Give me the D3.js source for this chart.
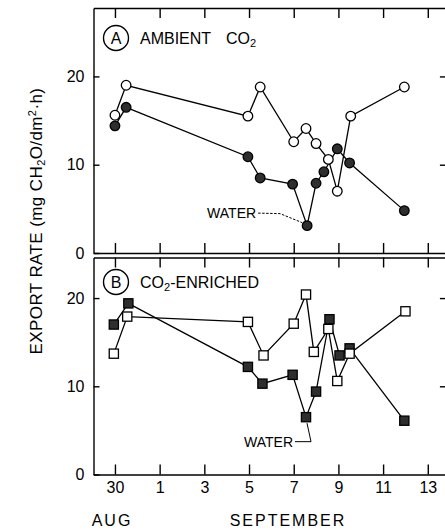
<!DOCTYPE html>
<html>
<head>
<meta charset="utf-8">
<script src="https://cdn.jsdelivr.net/npm/d3@7"></script>
<style>
  html, body { margin: 0; padding: 0; background: #fff; }
  svg { display: block; font-family: "Liberation Sans", Arial, sans-serif; }
</style>
</head>
<body>
<svg id="chart" width="445" height="530"></svg>
<script>
// Days counted from 30 August (31 Aug = 1, 1 Sep = 2, ...)
const tickDays   = [0, 2, 4, 6, 8, 10, 12, 14];
const tickLabels = ["30", "1", "3", "5", "7", "9", "11", "13"];
const yTicks     = [0, 10, 20];

// Panel A: ambient CO2
const ambientOpenDays   = [0, 0.5, 5.95, 6.5, 8.0, 8.55, 9.0, 9.55, 9.95, 10.55, 12.95];
const ambientOpenVals   = [15.6, 19.0, 15.5, 18.8, 12.6, 14.1, 12.4, 10.6, 7.0, 15.5, 18.8];
const ambientFilledDays = [0, 0.5, 5.95, 6.5, 7.95, 8.6, 9.0, 9.35, 9.95, 10.5, 12.95];
const ambientFilledVals = [14.4, 16.5, 10.9, 8.5, 7.8, 3.1, 7.9, 9.2, 11.8, 10.2, 4.8];

// Panel B: CO2-enriched
const enrichedOpenDays   = [-0.05, 0.55, 5.95, 6.65, 8.0, 8.55, 8.9, 9.55, 9.95, 10.5, 13.0];
const enrichedOpenVals   = [13.7, 17.9, 17.3, 13.5, 17.1, 20.4, 13.9, 16.5, 10.6, 13.7, 18.5];
const enrichedFilledDays = [-0.05, 0.6, 5.95, 6.6, 7.95, 8.55, 9.0, 9.6, 10.05, 10.5, 12.95];
const enrichedFilledVals = [17.0, 19.4, 12.2, 10.3, 11.3, 6.5, 9.4, 17.6, 13.5, 14.3, 6.1];

const zip = (days, vals) => days.map((d, i) => ({ day: d, val: vals[i] }));

const svg = d3.select("#chart");
svg.append("rect").attr("width", 445).attr("height", 530).attr("fill", "#fff");

const x = d3.scaleLinear().domain([-0.96, 14.9]).range([93.5, 447.9]);

const panels = [
  {
    y: d3.scaleLinear().domain([0, 27.75]).range([253, 8]),
    open: zip(ambientOpenDays, ambientOpenVals),
    filled: zip(ambientFilledDays, ambientFilledVals),
    shape: "circle",
    letter: "A",
    showX: false,
    waterIdx: 5
  },
  {
    y: d3.scaleLinear().domain([0, 24.6]).range([474.5, 257.5]),
    open: zip(enrichedOpenDays, enrichedOpenVals),
    filled: zip(enrichedFilledDays, enrichedFilledVals),
    shape: "square",
    letter: "B",
    showX: true,
    waterIdx: 5
  }
];

const styleAxis = g => {
  g.selectAll("path.domain").attr("stroke", "#000").attr("stroke-width", 1.4);
  g.selectAll(".tick line").attr("stroke", "#000").attr("stroke-width", 1.4);
  g.selectAll(".tick text").attr("fill", "#000").attr("font-size", 16)
    .attr("font-family", "Liberation Sans, Arial, sans-serif");
};

panels.forEach((p, pi) => {
  const y = p.y;
  const [yBot, yTop] = y.range();
  const g = svg.append("g");

  // bottom axis (ticks pointing up into the panel)
  const bottom = d3.axisBottom(x).tickValues(tickDays)
    .tickSizeInner(-10).tickSizeOuter(0).tickPadding(7)
    .tickFormat((d, i) => p.showX ? tickLabels[i] : "");
  g.append("g").attr("transform", `translate(0,${yBot})`).call(bottom).call(styleAxis)
    .attr("font-size", null);

  // top border with downward ticks
  const top = d3.axisTop(x).tickValues(tickDays)
    .tickSizeInner(-10).tickSizeOuter(0).tickFormat("");
  g.append("g").attr("transform", `translate(0,${yTop})`).call(top).call(styleAxis);

  // left axis, inward ticks
  const left = d3.axisLeft(y).tickValues(yTicks)
    .tickSizeInner(-6).tickSizeOuter(0).tickPadding(9).tickFormat(d3.format("d"));
  g.append("g").attr("transform", `translate(${x.range()[0]},0)`).call(left).call(styleAxis);

  // right border, inward ticks
  const right = d3.axisLeft(y).tickValues([10, 20])
    .tickSizeInner(8).tickSizeOuter(0).tickFormat("");
  g.append("g").attr("transform", `translate(${x.range()[1]},0)`).call(right).call(styleAxis);

  // series lines
  const line = d3.line().x(d => x(d.day)).y(d => y(d.val));
  [p.open, p.filled].forEach(s => {
    g.append("path").datum(s).attr("d", line)
      .attr("fill", "none").attr("stroke", "#000").attr("stroke-width", 1.3);
  });

  // markers
  const drawMarkers = (data, fill) => {
    if (p.shape === "circle") {
      g.selectAll(null).data(data).enter().append("circle")
        .attr("cx", d => x(d.day)).attr("cy", d => y(d.val)).attr("r", 4.8)
        .attr("fill", fill).attr("stroke", "#000").attr("stroke-width", 1.3);
    } else {
      g.selectAll(null).data(data).enter().append("rect")
        .attr("x", d => x(d.day) - 4.6).attr("y", d => y(d.val) - 4.6)
        .attr("width", 9.2).attr("height", 9.2)
        .attr("fill", fill).attr("stroke", "#000").attr("stroke-width", 1.3);
    }
  };
  drawMarkers(p.filled, "#2e2e2e");
  drawMarkers(p.open, "#fff");

  // panel label
  const labelY = pi === 0 ? 38 : 282;
  g.append("circle").attr("cx", 116).attr("cy", labelY).attr("r", 12.5)
    .attr("fill", "none").attr("stroke", "#000").attr("stroke-width", 1.4);
  g.append("text").attr("x", 116).attr("y", labelY + 5.8).attr("text-anchor", "middle")
    .attr("font-size", 16).text(p.letter);

  const lab = g.append("text").attr("x", 140).attr("y", labelY + 5.8).attr("font-size", 16);
  if (pi === 0) {
    lab.append("tspan").text("AMBIENT");
    lab.append("tspan").attr("x", 226).text("CO");
    lab.append("tspan").attr("font-size", 11).attr("dy", 3).text("2");
  } else {
    lab.append("tspan").text("CO");
    lab.append("tspan").attr("font-size", 11).attr("dy", 3).text("2");
    lab.append("tspan").attr("dy", -3).text("-ENRICHED");
  }

  // WATER annotation pointing at the water-stress point
  const w = p.filled[p.waterIdx];
  const mx = x(w.day), my = y(w.val);
  if (pi === 0) {
    g.append("text").attr("x", mx - 51).attr("y", my - 8).attr("text-anchor", "end")
      .attr("font-size", 14).text("WATER");
    g.append("path")
      .attr("d", d3.line()([[mx - 49, my - 12.5], [mx - 27, my - 12], [mx - 5, my - 3]]))
      .attr("fill", "none").attr("stroke", "#000").attr("stroke-width", 1)
      .attr("stroke-dasharray", "2.5,1.5");
  } else {
    g.append("text").attr("x", mx - 13).attr("y", my + 30).attr("text-anchor", "end")
      .attr("font-size", 14).text("WATER");
    g.append("path")
      .attr("d", d3.line()([[mx - 11, my + 24.5], [mx + 5, my + 24.5], [mx + 1, my + 6]]))
      .attr("fill", "none").attr("stroke", "#000").attr("stroke-width", 1);
  }
});

// y-axis title
const yt = svg.append("text")
  .attr("transform", "translate(42,221) rotate(-90)")
  .attr("text-anchor", "middle").attr("font-size", 17).attr("letter-spacing", 0.4);
yt.append("tspan").text("EXPORT RATE  (mg CH");
yt.append("tspan").attr("font-size", 11).attr("dy", 3).text("2");
yt.append("tspan").attr("dy", -3).text("O/dm");
yt.append("tspan").attr("font-size", 11).attr("dy", -6).text("2");
yt.append("tspan").attr("dy", 6).text("·h)");

// month labels
svg.append("text").attr("x", 112).attr("y", 526).attr("text-anchor", "middle")
  .attr("font-size", 16).attr("letter-spacing", 2).text("AUG");
svg.append("text").attr("x", 288).attr("y", 526).attr("text-anchor", "middle")
  .attr("font-size", 16).attr("letter-spacing", 2).text("SEPTEMBER");
</script>
</body>
</html>
